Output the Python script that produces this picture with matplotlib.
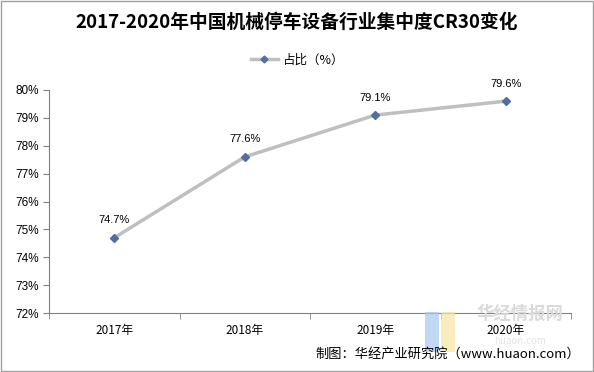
import matplotlib
matplotlib.use("Agg")
import matplotlib.pyplot as plt
from matplotlib.lines import Line2D
from matplotlib.patches import Rectangle

plt.rcParams['font.family'] = ['Noto Sans CJK SC', 'DejaVu Sans']

categories = ['2017年', '2018年', '2019年', '2020年']
values = [74.7, 77.6, 79.1, 79.6]
yticks = [72, 73, 74, 75, 76, 77, 78, 79, 80]
title = '2017-2020年中国机械停车设备行业集中度CR30变化'
legend_label = '占比（%）'
source = '制图：华经产业研究院（www.huaon.com）'

fig = plt.figure(figsize=(5.94, 3.72), dpi=100)
ax = fig.add_axes([49/594, 1-313/372, (571-49)/594, (313-90)/372])

x = list(range(len(categories)))
ax.plot(x, values, color='#BFBFBF', lw=2.5, zorder=2)
ax.plot(x, values, ls='none', marker='D', ms=4.5, color='#4F6FA0', zorder=3)
for xi, v in zip(x, values):
    ax.annotate(f'{v:.1f}%', (xi, v), xytext=(0, 9), textcoords='offset points',
                ha='center', va='bottom', fontsize=8, family=['Liberation Sans', 'DejaVu Sans'], color='#000000')

ax.set_xlim(-0.5, len(categories) - 0.5)
ax.set_ylim(72, 80)
ax.set_yticks(yticks)
ax.set_yticklabels([f'{t}%' for t in yticks], family=['Liberation Sans', 'DejaVu Sans'], fontsize=8.5)
ax.set_xticks(x)
ax.set_xticklabels(categories, fontsize=8.5)
ax.set_xticks([i - 0.5 for i in range(len(categories) + 1)], minor=True)
ax.tick_params(axis='x', which='major', length=0, pad=8)
ax.tick_params(axis='x', which='minor', length=4, color='#808080', direction='out')
ax.tick_params(axis='y', length=4, color='#808080', direction='out', pad=3)
for s in ['top', 'right']:
    ax.spines[s].set_visible(False)
for s in ['left', 'bottom']:
    ax.spines[s].set_color('#808080')
    ax.spines[s].set_linewidth(0.8)

fig.text(0.5, 1 - 22/372, title, ha='center', va='center', fontsize=13.5, fontweight='bold')

handle = Line2D([0], [0], color='#BFBFBF', lw=2.5, marker='D', ms=3.5,
                markerfacecolor='#4F6FA0', markeredgecolor='#4F6FA0')
fig.legend([handle], [legend_label], loc='center', bbox_to_anchor=(0.5, 1 - 60/372),
           frameon=False, fontsize=9, handlelength=2.2, handletextpad=0.3)

# watermark
fig.patches.append(Rectangle((425/594, 1-352/372), 14/594, 40/372, transform=fig.transFigure,
                             facecolor='#A8C8F0', edgecolor='none', zorder=0, alpha=0.7))
fig.patches.append(Rectangle((441/594, 1-352/372), 14/594, 40/372, transform=fig.transFigure,
                             facecolor='#F5E6A0', edgecolor='none', zorder=0, alpha=0.7))
fig.text(520/594, 1 - 314/372, '华经情报网', ha='center', va='center', fontsize=12.5,
         color='#DADADA', fontweight='bold', zorder=0)
fig.text(520/594, 1 - 341/372, 'huaon.com', ha='center', va='center', fontsize=7,
         color='#E3E3E3', zorder=0)

fig.text(1 - 14/594, 1 - 354/372, source, ha='right', va='center', fontsize=9.5)

fig.patches.append(Rectangle((0.002, 0.003), 0.996, 0.994, transform=fig.transFigure,
                             facecolor='none', edgecolor='#A0A0A0', lw=1))

fig.savefig('out.png', dpi=100)
